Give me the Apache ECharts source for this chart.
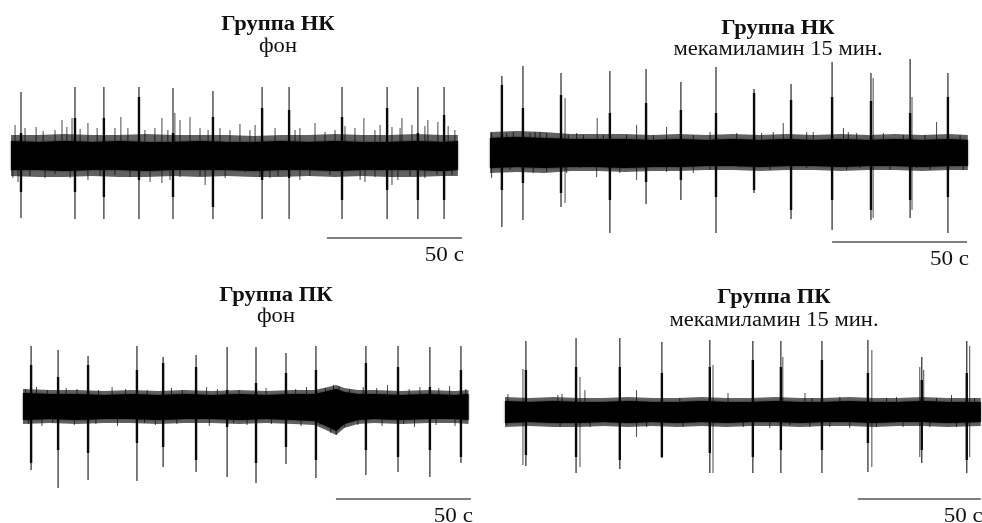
<!DOCTYPE html>
<html>
<head>
<meta charset="utf-8">
<script src="https://cdn.jsdelivr.net/npm/echarts@6/dist/echarts.min.js"></script>
<style>
  html, body { margin: 0; padding: 0; background: #fff; }
  #chart { width: 982px; height: 523px; }
</style>
</head>
<body>
<div id="chart"></div>
<script>
// Scale bar: 50 s
var scaleSpan = 50;
var scaleLabel = '50 с';

// Panel titles
var titles = ['Группа НК', 'Группа НК', 'Группа ПК', 'Группа ПК'];
var subtitles = ['фон', 'мекамиламин 15 мин.', 'фон', 'мекамиламин 15 мин.'];

// ---- Группа НК, фон ----
var nkBaseBurstT  = [3.7, 23.7, 34.4, 47.4, 60.0, 74.8, 93.0, 103.0, 122.6, 139.3, 150.7, 160.4];
var nkBaseBurstHi = [64, 69, 69, 69, 68, 65, 69, 69, 69, 69, 69, 69];
var nkBaseBurstLo = [-62, -63, -63, -63, -63, -63, -63, -63, -63, -63, -63, -63];
var nkBaseCoreHi  = [23, 38, 38, 59, 23, 39, 48, 46, 39, 48, 23, 41];
var nkBaseCoreLo  = [-36, -36, -41, -24, -41, -51, -24, -22, -44, -34, -44, -44];
var nkBaseNoiseT  = [0, 10, 20, 30, 40, 50, 60, 70, 80, 90, 100, 110, 120, 130, 140, 150, 160, 165.5];
var nkBaseNoiseHi = [15, 14, 15, 14, 15, 14, 14, 15, 14, 14, 15, 14, 15, 14, 14, 15, 14, 15];
var nkBaseNoiseLo = [-14, -14, -15, -14, -14, -15, -14, -14, -14, -15, -14, -14, -15, -14, -14, -14, -15, -14];
var nkBaseFringeHi = [21, 21, 22, 21, 21, 22, 21, 21, 21, 20, 21, 21, 22, 21, 21, 22, 21, 21];
var nkBaseFringeLo = [-20, -21, -21, -20, -21, -21, -20, -21, -20, -21, -21, -20, -21, -20, -21, -21, -20, -20];
var nkBaseSpikes = [
  [1.5, 31, 0], [5.2, 28, 0], [9.3, 29, 0], [11.9, 25, 0], [16.3, 26, 0], [18.9, 36, 0], [20.7, 29, 0],
  [22.6, 38, 0], [25.6, 27, 0], [28.5, 33, 0], [31.9, 28, 0], [38.5, 28, 0], [40.7, 39, 0], [43.3, 28, 0],
  [49.6, 26, 0], [53.3, 28, 0], [55.9, 38, 0], [58.1, 26, 0], [60.7, 43, 0], [62.6, 36, 0], [66.3, 39, 0],
  [70.0, 28, 0], [73.0, 26, 0], [77.4, 28, 0], [81.1, 26, 0], [84.8, 32, 0], [88.5, 26, 0], [90.4, 31, 0],
  [97.8, 28, 0], [105.2, 26, 0], [107.0, 28, 0], [112.6, 33, 0], [116.3, 24, 0], [120.0, 26, 0], [123.7, 30, 0],
  [127.4, 28, 0], [130.7, 38, 0], [134.8, 26, 0], [136.7, 31, 0], [141.1, 29, 0], [144.1, 28, 0], [144.8, 38, 0],
  [148.5, 31, 0], [153.3, 30, 0], [154.4, 36, 0], [158.1, 34, 0], [161.9, 30, 0], [164.4, 26, 0],
  [0.7, 0, -22], [2.6, 0, -26], [7.0, 0, -20], [12.6, 0, -22], [16.3, 0, -18], [21.9, 0, -22], [28.5, 0, -24],
  [33.0, 0, -20], [38.5, 0, -19], [44.1, 0, -21], [51.5, 0, -26], [55.9, 0, -27], [58.9, 0, -24], [62.6, 0, -21],
  [70.0, 0, -20], [71.9, 0, -29], [79.3, 0, -22], [86.7, 0, -16], [92.2, 0, -21], [95.9, 0, -22], [98.9, 0, -20],
  [107.0, 0, -24], [110.7, 0, -20], [118.1, 0, -19], [129.3, 0, -24], [131.1, 0, -26], [134.8, 0, -21],
  [141.1, 0, -29], [143.3, 0, -24], [147.8, 0, -20], [153.3, 0, -22], [157.8, 0, -19], [163.3, 0, -19]
];

// ---- Группа НК, мекамиламин 15 мин. ----
var nkMecBurstT  = [4.4, 12.2, 26.3, 44.4, 57.8, 70.7, 83.7, 97.8, 111.5, 126.7, 141.1, 155.6, 169.6];
var nkMecBurstHi = [77, 87, 80, 82, 84, 71, 86, 64, 69, 91, 80, 94, 80];
var nkMecBurstLo = [-74, -67, -54, -80, -51, -47, -80, -40, -66, -77, -67, -65, -80];
var nkMecCoreHi  = [68, 45, 58, 40, 50, 43, 40, 60, 53, 56, 52, 40, 56];
var nkMecCoreLo  = [-37, -30, -40, -47, -29, -27, -44, -37, -57, -47, -57, -47, -44];
var nkMecNoiseT  = [0, 10, 20, 30, 40, 50, 60, 70, 80, 90, 100, 110, 120, 130, 140, 150, 160, 170, 177];
var nkMecNoiseHi = [15, 16, 15, 14, 14, 14, 13, 14, 13, 14, 13, 14, 13, 14, 13, 14, 13, 14, 13];
var nkMecNoiseLo = [-15, -14, -15, -14, -14, -15, -14, -14, -13, -13, -14, -13, -13, -14, -13, -13, -14, -13, -13];
var nkMecFringeHi = [21, 22, 21, 19, 19, 19, 18, 19, 18, 19, 18, 19, 18, 19, 18, 19, 18, 19, 18];
var nkMecFringeLo = [-20, -19, -20, -18, -18, -19, -18, -18, -17, -17, -18, -17, -17, -18, -17, -17, -18, -17, -17];
var nkMecSpikes = [
  [27.8, 55, -50], [141.9, 75, -65], [156.3, 56, -57],
  [0.6, 20, 0], [6.2, 20, 0], [8.6, 21, 0], [14.8, 20, 0], [16.7, 21, 0], [18.5, 21, 0], [21.0, 20, 0],
  [29.0, 18, 0], [32.1, 20, 0], [34.6, 18, 0], [39.7, 35, 0], [42.0, 18, 0], [50.6, 18, 0], [54.3, 28, 0],
  [60.5, 18, 0], [65.4, 26, 0], [75.3, 18, 0], [81.5, 21, 0], [91.4, 20, 0], [100.6, 20, 0], [104.9, 21, 0],
  [108.6, 30, 0], [117.3, 21, 0], [119.7, 21, 0], [130.9, 25, 0], [132.7, 21, 0], [135.8, 20, 0],
  [145.7, 20, 0], [153.1, 18, 0], [161.1, 18, 0], [165.4, 31, 0], [174.1, 18, 0],
  [0.6, 0, -25], [7.4, 0, -17], [16.0, 0, -20], [21.0, 0, -19], [28.4, 0, -20], [33.3, 0, -15], [39.5, 0, -24],
  [48.1, 0, -20], [54.3, 0, -27], [65.4, 0, -19], [75.3, 0, -20], [81.5, 0, -17], [92.6, 0, -14],
  [103.7, 0, -17], [117.3, 0, -15], [132.1, 0, -17], [137.0, 0, -15], [148.1, 0, -17], [158.0, 0, -15],
  [163.0, 0, -17], [175.3, 0, -17]
];

// ---- Группа ПК, фон ----
var pkBaseBurstT  = [3.0, 13.0, 24.1, 42.2, 51.9, 64.1, 75.6, 86.3, 97.4, 108.5, 127.0, 138.9, 150.7, 162.2];
var pkBaseBurstHi = [61, 57, 51, 61, 50, 52, 60, 60, 54, 61, 61, 61, 60, 61];
var pkBaseBurstLo = [-63, -81, -73, -74, -60, -65, -70, -76, -57, -71, -68, -65, -70, -56];
var pkBaseCoreHi  = [42, 30, 42, 37, 44, 40, 17, 24, 34, 37, 44, 40, 20, 37];
var pkBaseCoreLo  = [-56, -43, -46, -36, -40, -53, -20, -56, -40, -53, -43, -50, -43, -50];
var pkBaseNoiseT  = [0, 10, 20, 30, 40, 50, 60, 70, 80, 90, 100, 108, 113, 116, 119, 124, 130, 140, 150, 160, 165];
var pkBaseNoiseHi = [14, 13, 13, 12, 13, 12, 13, 12, 13, 12, 13, 13, 16, 18, 15, 13, 13, 12, 13, 12, 13];
var pkBaseNoiseLo = [-13, -12, -13, -12, -12, -13, -12, -12, -13, -12, -13, -14, -20, -24, -17, -13, -12, -13, -12, -12, -13];
var pkBaseFringeHi = [18, 17, 17, 16, 17, 16, 17, 16, 17, 16, 17, 17, 20, 22, 19, 17, 17, 16, 17, 16, 17];
var pkBaseFringeLo = [-17, -16, -17, -16, -16, -17, -16, -16, -17, -16, -17, -18, -24, -28, -21, -17, -16, -17, -16, -16, -17];
var pkBaseSpikes = [
  [1, 18, 0], [5, 20, 0], [9, 17, 0], [16, 19, 0], [20, 18, 0], [28, 17, 0], [33, 20, 0], [38, 18, 0],
  [46, 17, 0], [55, 19, 0], [59, 17, 0], [68, 20, 0], [72, 18, 0], [80, 17, 0], [90, 19, 0], [101, 18, 0],
  [105, 20, 0], [112, 19, 0], [115, 22, 0], [117, 21, 0], [121, 18, 0], [126, 20, 0], [131, 19, 0],
  [135, 22, 0], [143, 18, 0], [147, 20, 0], [154, 19, 0], [158, 21, 0], [164, 18, 0],
  [2, 0, -17], [7, 0, -19], [11, 0, -16], [19, 0, -18], [27, 0, -17], [35, 0, -19], [45, 0, -16],
  [49, 0, -18], [57, 0, -17], [69, 0, -19], [78, 0, -16], [83, 0, -18], [92, 0, -17], [103, 0, -19],
  [110, 0, -18], [114, 0, -26], [116, 0, -28], [119, 0, -20], [124, 0, -18], [133, 0, -19], [141, 0, -17],
  [145, 0, -20], [153, 0, -18], [160, 0, -19]
];

// ---- Группа ПК, мекамиламин 15 мин. ----
var pkMecBurstT  = [8.5, 28.9, 46.7, 63.8, 83.3, 100.8, 112.2, 128.9, 147.6, 169.5, 187.8];
var pkMecBurstHi = [71, 74, 74, 70, 72, 71, 71, 71, 72, 55, 71];
var pkMecBurstLo = [-54, -61, -57, -46, -61, -61, -61, -61, -60, -51, -61];
var pkMecCoreHi  = [42, 45, 45, 39, 45, 52, 45, 52, 39, 32, 39];
var pkMecCoreLo  = [-43, -45, -48, -45, -41, -45, -38, -38, -31, -38, -48];
var pkMecNoiseT  = [0, 10, 20, 30, 40, 50, 60, 70, 80, 90, 100, 110, 120, 130, 140, 150, 160, 170, 180, 193.5];
var pkMecNoiseHi = [11, 10, 11, 10, 10, 11, 10, 10, 11, 10, 10, 11, 10, 10, 11, 10, 10, 11, 10, 10];
var pkMecNoiseLo = [-11, -10, -11, -11, -10, -11, -10, -11, -10, -11, -10, -10, -11, -10, -10, -11, -10, -10, -11, -10];
var pkMecFringeHi = [15, 14, 15, 14, 14, 15, 14, 14, 15, 14, 14, 15, 14, 14, 15, 14, 14, 15, 14, 14];
var pkMecFringeLo = [-15, -14, -15, -15, -14, -15, -14, -15, -14, -15, -14, -14, -15, -14, -14, -15, -14, -14, -15, -14];
var pkMecSpikes = [
  [7.3, 43, -53], [30.5, 35, -55], [84.6, 47, -61], [113.0, 55, 0], [149.2, 62, -55],
  [168.7, 45, -45], [170.3, 42, 0], [189.0, 66, -45],
  [1.2, 18, 0], [21.5, 17, 0], [23.2, 18, 0], [32.5, 22, 0], [53.5, 22, 0], [71.1, 14, 0], [90.7, 19, 0],
  [122.0, 19, 0], [124.8, 14, 0], [136.2, 15, 0], [155.2, 14, 0], [159.2, 15, 0], [175.5, 14, 0],
  [181.6, 17, 0], [191.0, 14, 0],
  [0.7, 0, -13], [22.4, 0, -15], [34.6, 0, -15], [53.5, 0, -25], [57.6, 0, -15], [72.4, 0, -15],
  [96.9, 0, -15], [107.7, 0, -16], [115.9, 0, -13], [124.0, 0, -15], [132.1, 0, -15], [140.2, 0, -16],
  [151.1, 0, -15], [161.9, 0, -15], [172.8, 0, -15], [183.6, 0, -15]
];

// Start times of the 50 s scale bars
var scaleStart = [117.0, 126.7, 115.9, 143.5];

var panels = [
  { burstT: nkBaseBurstT, hi: nkBaseBurstHi, lo: nkBaseBurstLo, coreHi: nkBaseCoreHi, coreLo: nkBaseCoreLo,
    noiseT: nkBaseNoiseT, noiseHi: nkBaseNoiseHi, noiseLo: nkBaseNoiseLo,
    fringeHi: nkBaseFringeHi, fringeLo: nkBaseFringeLo, spikes: nkBaseSpikes },
  { burstT: nkMecBurstT, hi: nkMecBurstHi, lo: nkMecBurstLo, coreHi: nkMecCoreHi, coreLo: nkMecCoreLo,
    noiseT: nkMecNoiseT, noiseHi: nkMecNoiseHi, noiseLo: nkMecNoiseLo,
    fringeHi: nkMecFringeHi, fringeLo: nkMecFringeLo, spikes: nkMecSpikes },
  { burstT: pkBaseBurstT, hi: pkBaseBurstHi, lo: pkBaseBurstLo, coreHi: pkBaseCoreHi, coreLo: pkBaseCoreLo,
    noiseT: pkBaseNoiseT, noiseHi: pkBaseNoiseHi, noiseLo: pkBaseNoiseLo,
    fringeHi: pkBaseFringeHi, fringeLo: pkBaseFringeLo, spikes: pkBaseSpikes },
  { burstT: pkMecBurstT, hi: pkMecBurstHi, lo: pkMecBurstLo, coreHi: pkMecCoreHi, coreLo: pkMecCoreLo,
    noiseT: pkMecNoiseT, noiseHi: pkMecNoiseHi, noiseLo: pkMecNoiseLo,
    fringeHi: pkMecFringeHi, fringeLo: pkMecFringeLo, spikes: pkMecSpikes }
];

// Page layout of the four recordings (pixels; time scale in px per second)
var layout = [
  { left: 11,  pxPerSec: 2.7,  tMax: 168, center: 156, top: 60,  bottom: 272, barAmp: -82, titleX: 278, titleY: 25, subY: 47 },
  { left: 490, pxPerSec: 2.7,  tMax: 178, center: 153, top: 60,  bottom: 272, barAmp: -89, titleX: 778, titleY: 29, subY: 50 },
  { left: 23,  pxPerSec: 2.7,  tMax: 166, center: 407, top: 330, bottom: 523, barAmp: -92, titleX: 276, titleY: 296, subY: 317 },
  { left: 505, pxPerSec: 2.46, tMax: 194, center: 412, top: 330, bottom: 523, barAmp: -87, titleX: 774, titleY: 298, subY: 321 }
];

var SERIF = '"Liberation Serif", "Times New Roman", serif';
var TEXT_STRETCH = 1.13;

function bandSeries(i, tArr, hiArr, loArr, z, style) {
  return {
    type: 'custom', xAxisIndex: i, yAxisIndex: i, silent: true, z: z,
    data: [[tArr[0], hiArr[0], loArr[0]]],
    encode: { x: 0, y: [1, 2] },
    renderItem: function (params, api) {
      var pts = [], k;
      for (k = 0; k < tArr.length; k++) pts.push(api.coord([tArr[k], hiArr[k]]));
      for (k = tArr.length - 1; k >= 0; k--) pts.push(api.coord([tArr[k], loArr[k]]));
      return { type: 'polygon', shape: { points: pts }, style: style };
    }
  };
}

var grids = [], xAxes = [], yAxes = [], series = [], graphics = [];

panels.forEach(function (p, i) {
  var L = layout[i];
  grids.push({ left: L.left, top: L.top, width: L.tMax * L.pxPerSec, height: L.bottom - L.top, containLabel: false });
  xAxes.push({ type: 'value', gridIndex: i, min: 0, max: L.tMax, show: false });
  yAxes.push({ type: 'value', gridIndex: i, min: L.center - L.bottom, max: L.center - L.top, show: false });

  // small spikes rising out of the background
  series.push({
    type: 'custom', xAxisIndex: i, yAxisIndex: i, silent: true, z: 2,
    data: p.spikes,
    encode: { x: 0, y: [1, 2] },
    renderItem: function (params, api) {
      var a = api.coord([api.value(0), api.value(1)]);
      var b = api.coord([api.value(0), api.value(2)]);
      return { type: 'line', shape: { x1: a[0], y1: a[1], x2: b[0], y2: b[1] },
               style: { stroke: '#4a4a4a', lineWidth: 1 } };
    }
  });

  // bursts
  var burstData = p.burstT.map(function (t, k) { return [t, p.hi[k], p.lo[k], p.coreHi[k], p.coreLo[k]]; });
  series.push({
    type: 'custom', xAxisIndex: i, yAxisIndex: i, silent: true, z: 3,
    data: burstData,
    encode: { x: 0, y: [1, 2] },
    renderItem: function (params, api) {
      var t = api.value(0);
      var a = api.coord([t, api.value(1)]), b = api.coord([t, api.value(2)]);
      var c = api.coord([t, api.value(3)]), d = api.coord([t, api.value(4)]);
      return { type: 'group', children: [
        { type: 'line', shape: { x1: a[0], y1: a[1], x2: b[0], y2: b[1] }, style: { stroke: '#383838', lineWidth: 1.3 } },
        { type: 'rect', shape: { x: c[0] - 1.2, y: c[1], width: 2.4, height: d[1] - c[1] }, style: { fill: '#0a0a0a' } }
      ] };
    }
  });

  // background activity: dense fringe, then the solid core over the spike bases
  series.push(bandSeries(i, p.noiseT, p.fringeHi, p.fringeLo, 4, { fill: 'rgba(0,0,0,0.62)' }));
  series.push(bandSeries(i, p.noiseT, p.noiseHi, p.noiseLo, 5, { fill: '#000', shadowBlur: 2, shadowColor: 'rgba(0,0,0,0.8)' }));

  // 50 s scale bar
  series.push({
    type: 'custom', xAxisIndex: i, yAxisIndex: i, silent: true, z: 6,
    data: [[scaleStart[i], scaleStart[i] + scaleSpan, L.barAmp]],
    encode: { x: [0, 1], y: 2 },
    renderItem: function (params, api) {
      var a = api.coord([api.value(0), api.value(2)]);
      var b = api.coord([api.value(1), api.value(2)]);
      return { type: 'group', children: [
        { type: 'line', shape: { x1: a[0], y1: a[1], x2: b[0], y2: b[1] }, style: { stroke: '#555', lineWidth: 1.5 } },
        { type: 'text', x: b[0] + 2, y: a[1] + 7, scaleX: 1.1,
          style: { text: scaleLabel, font: '21px ' + SERIF, fill: '#111', align: 'right', verticalAlign: 'top' } }
      ] };
    }
  });

  graphics.push({ type: 'text', x: L.titleX, y: L.titleY, scaleX: TEXT_STRETCH,
    style: { text: titles[i], font: 'bold 20px ' + SERIF, fill: '#111', align: 'center', verticalAlign: 'middle' } });
  graphics.push({ type: 'text', x: L.titleX, y: L.subY, scaleX: TEXT_STRETCH,
    style: { text: subtitles[i], font: '20px ' + SERIF, fill: '#111', align: 'center', verticalAlign: 'middle' } });
});

var chart = echarts.init(document.getElementById('chart'), null, { renderer: 'canvas' });
chart.setOption({
  backgroundColor: '#fff',
  animation: false,
  grid: grids,
  xAxis: xAxes,
  yAxis: yAxes,
  series: series,
  graphic: graphics
});
</script>
</body>
</html>
